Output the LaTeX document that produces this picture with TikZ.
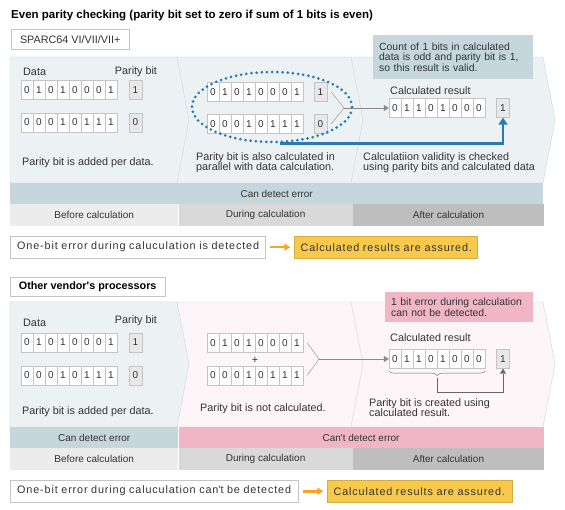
\documentclass[tikz,border=0pt]{standalone}
\usepackage{fontspec}
\setmainfont{Liberation Sans}
\newfontfamily\spacedfont[LetterSpace=8]{Liberation Sans}
\usetikzlibrary{arrows.meta, positioning, calc, shapes.geometric, decorations.pathreplacing}
\definecolor{panelblue}{HTML}{ECF1F4}
\definecolor{panelpink}{HTML}{FDF5F8}
\definecolor{edgegray}{HTML}{CDD5DA}
\definecolor{detectblue}{HTML}{C5D6DD}
\definecolor{nodetectpink}{HTML}{F0B6C6}
\definecolor{beforegray}{HTML}{ECECEC}
\definecolor{duringgray}{HTML}{D9D9D9}
\definecolor{aftergray}{HTML}{BEBEBE}
\definecolor{cellgray}{HTML}{C4C4C4}
\definecolor{paritygray}{HTML}{E8E8E8}
\definecolor{textgray}{HTML}{333333}
\definecolor{checkblue}{HTML}{2A78B8}
\definecolor{arroworange}{HTML}{F5A623}
\definecolor{assuredyellow}{HTML}{F9C94B}
\definecolor{linegray}{HTML}{8A8A8A}
\definecolor{darkline}{HTML}{666666}

\newcommand\fs{\fontsize{10.8}{10.8}\selectfont}
\newcommand\fsnote{\fontsize{10.4}{10.8}\selectfont}
\newcommand\fsband{\fontsize{10}{12}\selectfont}
\newcommand\fsmsg{\spacedfont\fontsize{10.8}{12}\selectfont}
\newcommand\bitrow[4]{% name, left x, centre y, bits
  \foreach \bitval [count=\i] in {#4}
    \node[bitcell] (#1-\i) at ({#2+(\i-0.5)*12}, #3) {\bitval};}

\begin{document}
\begin{tikzpicture}[x=1pt, y=-1pt,
    txt/.style={inner sep=0pt, anchor=west, font=\fs, text=textgray},
    bitcell/.style={draw=cellgray, fill=white, minimum width=12pt, minimum height=19pt,
      inner sep=0pt, font=\fsband, text=textgray},
    paritycell/.style={bitcell, fill=paritygray, minimum width=13pt},
    band/.style={anchor=north west, minimum height=22pt, inner sep=0pt, font=\fsband, text=textgray},
    headbox/.style={draw=cellgray, fill=white, anchor=north west, minimum height=20pt,
      inner sep=0pt, font=\fs, text=textgray},
    notebox/.style={anchor=north west, inner xsep=6pt, inner ysep=0pt, align=left,
      font=\fsnote, text=textgray},
    msgbox/.style={draw=cellgray, fill=white, anchor=north west, minimum height=22pt,
      inner xsep=7pt, inner ysep=0pt, align=left, font=\fsmsg, text=textgray},
    yelbox/.style={draw=assuredyellow!85!black, fill=assuredyellow, anchor=west,
      minimum height=22pt, inner xsep=6pt, inner ysep=0pt, align=left, font=\fsmsg, text=textgray},
    okarrow/.style={arroworange, line width=2.6pt, -{Triangle[width=7pt,length=6pt]},
      shorten <=5pt, shorten >=4pt},
    feed/.style={linegray, -{Triangle[width=6pt,length=5pt]}}]
\useasboundingbox (0,0) rectangle (565,510);

% ---------- even parity checking ----------
\node[txt, font=\fontsize{11.5}{12}\selectfont\bfseries, text=black] (title) at (11,16)
  {Even parity checking (parity bit set to zero if sum of 1 bits is even)};
\node[headbox, minimum width=118pt] (sparc) at (11,29) {SPARC64 VI/VII/VII+};

\filldraw[fill=panelblue, draw=edgegray] (10,183) -- (10,57) -- (543,57) -- (555,120) -- (543,183) -- cycle;
\draw[edgegray] (177,57) -- (189,120) -- (177,183);
\draw[edgegray] (351,57) -- (363,120) -- (351,183);

% before calculation
\node[txt] (dataA) at (23,72) {Data};
\node[txt, anchor=center] (parA) at (136,72) {Parity bit};
\bitrow{inA}{21}{90}{0,1,0,1,0,0,0,1}
\node[paritycell] (pA) at (135.5,90) {1};
\bitrow{inB}{21}{122.5}{0,0,0,1,0,1,1,1}
\node[paritycell] (pB) at (135.5,122.5) {0};
\node[txt] (addA) at (22,163) {Parity bit is added per data.};

% during calculation
\bitrow{calA}{207}{92}{0,1,0,1,0,0,0,1}
\node[paritycell] (cpA) at (320.5,92) {1};
\bitrow{calB}{207}{124}{0,0,0,1,0,1,1,1}
\node[paritycell] (cpB) at (320.5,124) {0};
\node[draw=checkblue, ellipse, line width=3pt, dash pattern=on 0pt off 5.2pt, line cap=round,
  minimum width=160pt, minimum height=70pt] (grp) at (272,107) {};
\coordinate (mrgA) at (344,108);
\draw[linegray] ([xshift=4pt]cpA.east) -- (mrgA) -- ([xshift=4pt]cpB.east);
\node[txt, anchor=north west, align=left] (parB) at (196,152)
  {Parity bit is also calculated in\\ parallel with data calculation.};

% after calculation
\node[notebox, fill=detectblue, text width=148pt, minimum height=44pt] (noteA) at (373,35)
  {Count of 1 bits in calculated\\ data is odd and parity bit is 1,\\ so this result is valid.};
\node[txt] (resLblA) at (390,91) {Calculated result};
\bitrow{resA}{389}{108}{0,1,1,0,1,0,0,0}
\node[paritycell] (rpA) at (503,108) {1};
\draw[feed] (mrgA) -- (resA-1.west);
\draw[checkblue, line width=2.6pt, -{Triangle[width=9pt,length=7pt]}] (grp.-78) -| (rpA.south);
\node[txt, anchor=north west, align=left] (chk) at (363,152)
  {Calculatiion validity is checked\\ using parity bits and calculated data};

% phase bands
\node[band, fill=detectblue, minimum width=533pt, minimum height=21pt] (detA) at (10,183) {Can detect error};
\node[band, fill=beforegray, minimum width=168pt] (befA) at (10,204) {Before calculation};
\node[band, fill=duringgray, minimum width=174pt] (durA) at (befA.north east) {During calculation};
\node[band, fill=aftergray, minimum width=191pt] (aftA) at (durA.north east) {After calculation};

\node[msgbox, text width=241pt] (msgA) at (10,236) {One-bit error during caluculation is detected};
\node[yelbox, text width=171pt, right=29pt of msgA] (yelA) {Calculated results are assured.};
\draw[okarrow] (msgA.east) -- (yelA.west);

% ---------- other vendor ----------
\node[headbox, minimum width=155pt, minimum height=19pt, font=\fs\bfseries, text=black] (other) at (10,277)
  {Other vendor\textquotesingle s processors};

\filldraw[fill=panelpink, draw=edgegray] (10,427) -- (10,302) -- (543,302) -- (555,364) -- (543,427) -- cycle;
\filldraw[fill=panelblue, draw=edgegray] (10,427) -- (10,302) -- (177,302) -- (189,364) -- (177,427) -- cycle;
\draw[edgegray] (351,302) -- (363,364) -- (351,427);

% before calculation
\node[txt] (dataB) at (23,323) {Data};
\node[txt, anchor=center] (parC) at (136,321) {Parity bit};
\bitrow{inC}{21}{342.5}{0,1,0,1,0,0,0,1}
\node[paritycell] (pC) at (135.5,342.5) {1};
\bitrow{inD}{21}{375.5}{0,0,0,1,0,1,1,1}
\node[paritycell] (pD) at (135.5,375.5) {0};
\node[txt] (addB) at (22,412) {Parity bit is added per data.};

% during calculation
\bitrow{calC}{207}{343}{0,1,0,1,0,0,0,1}
\node[txt, anchor=center] (plus) at (255,360) {+};
\bitrow{calD}{207}{375.5}{0,0,0,1,0,1,1,1}
\coordinate (mrgB) at (319,359);
\draw[linegray] ([xshift=4pt]calC-8.east) -- (mrgB) -- ([xshift=4pt]calD-8.east);
\node[txt] (noB) at (200,409) {Parity bit is not calculated.};

% after calculation
\node[notebox, fill=nodetectpink, text width=136pt, minimum height=30pt] (noteB) at (385,292)
  {1 bit error during calculation\\ can not be detected.};
\node[txt] (resLblB) at (390,338) {Calculated result};
\bitrow{resB}{389}{359}{0,1,1,0,1,0,0,0}
\node[paritycell] (rpB) at (503,359) {1};
\draw[feed] (mrgB) -- (resB-1.west);
\draw[darkline, decorate, decoration={brace, amplitude=5pt, raise=2pt}]
  (resB-8.south east) -- (resB-1.south west);
\coordinate (braceTip) at ($(resB-4.south east)+(0,9)$);
\draw[darkline, -{Triangle[width=6pt,length=5pt]}] (braceTip) -- ++(0,15) -| (rpB.south);
\node[txt, anchor=north west, align=left] (mkB) at (369,398)
  {Parity bit is created using\\ calculated result.};

% phase bands
\node[band, fill=detectblue, minimum width=168pt, minimum height=21pt] (detB) at (10,427) {Can detect error};
\node[band, fill=nodetectpink, minimum width=365pt, minimum height=21pt] (nodetB) at (detB.north east)
  {Can\textquotesingle t detect error};
\node[band, fill=beforegray, minimum width=168pt] (befB) at (10,448) {Before calculation};
\node[band, fill=duringgray, minimum width=174pt] (durB) at (befB.north east) {During calculation};
\node[band, fill=aftergray, minimum width=191pt] (aftB) at (durB.north east) {After calculation};

\node[msgbox, text width=274pt] (msgB) at (10,480) {One-bit error during caluculation can\textquotesingle t be detected};
\node[yelbox, text width=173pt, right=29pt of msgB] (yelB) {Calculated results are assured.};
\draw[okarrow] (msgB.east) -- (yelB.west);
\end{tikzpicture}
\end{document}
